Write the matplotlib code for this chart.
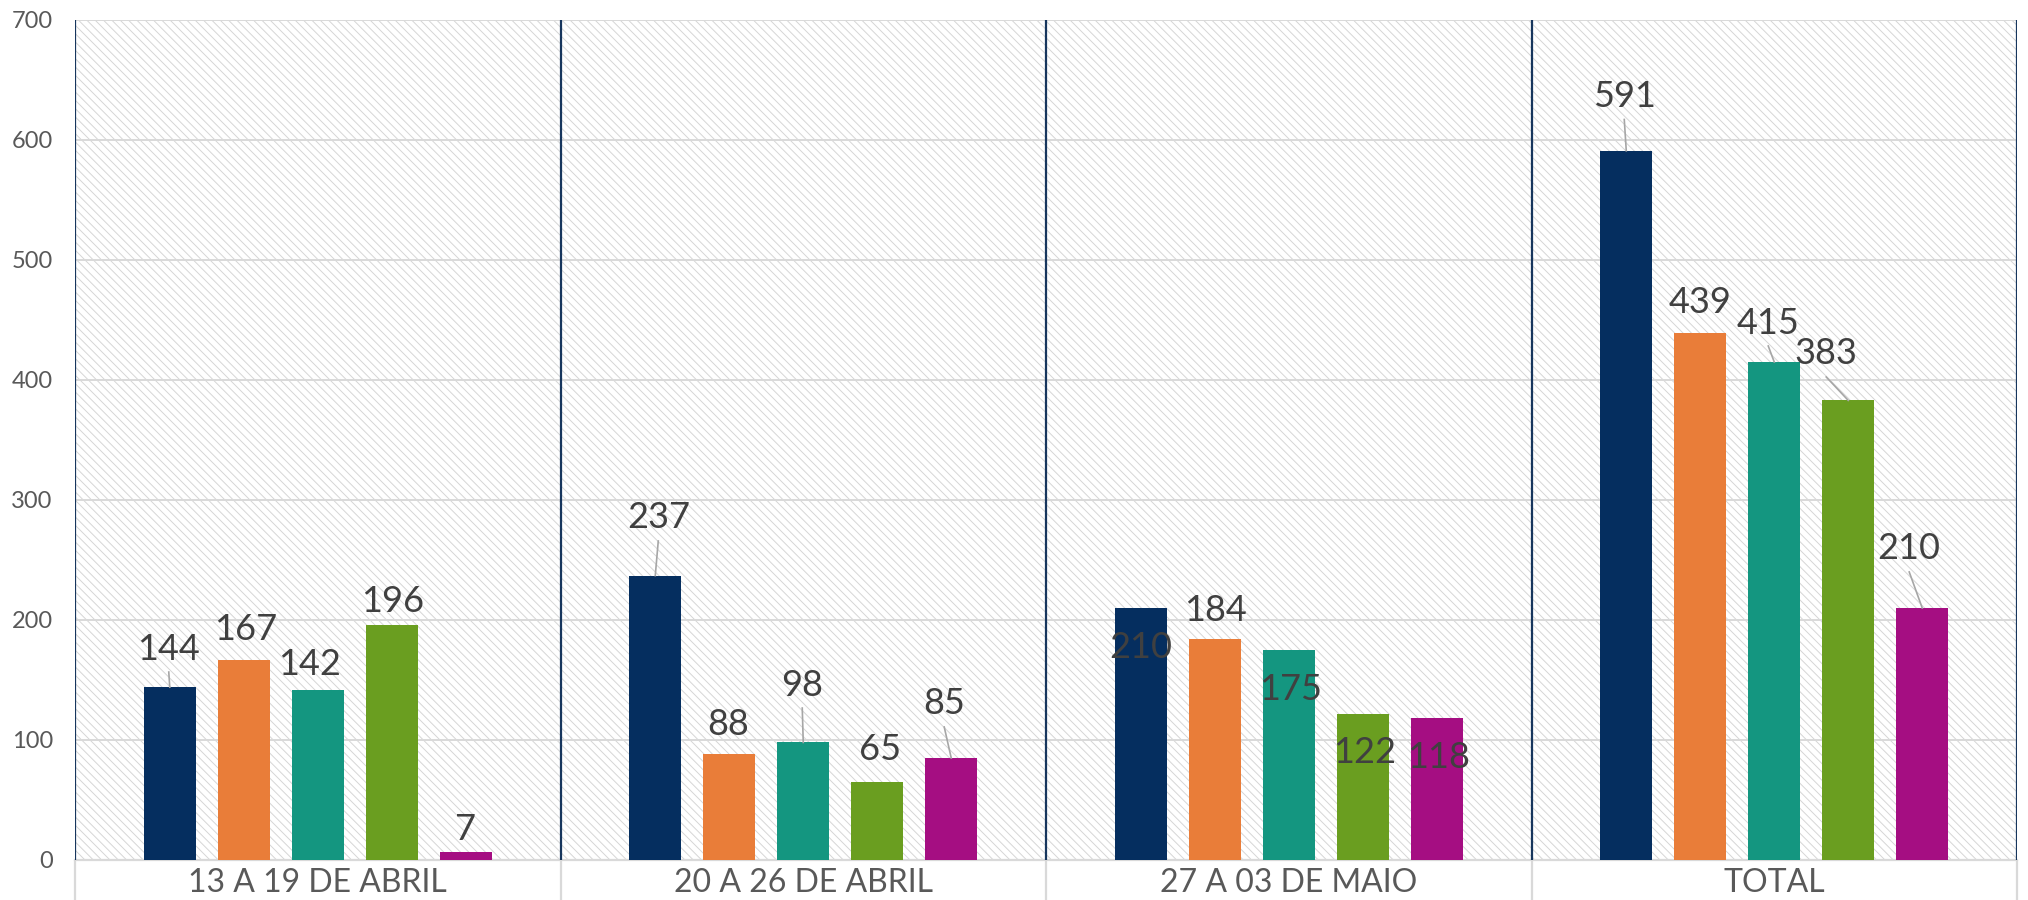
import matplotlib
matplotlib.use("Agg")
import matplotlib.pyplot as plt
from matplotlib.patches import Rectangle
import numpy as np

# ---- data ----
categories = ["13 A 19 DE ABRIL", "20 A 26 DE ABRIL", "27 A 03 DE MAIO", "TOTAL"]
series_1 = [144, 237, 210, 591]
series_2 = [167, 88, 184, 439]
series_3 = [142, 98, 175, 415]
series_4 = [196, 65, 122, 383]
series_5 = [7, 85, 118, 210]
y_ticks = [0, 100, 200, 300, 400, 500, 600, 700]

# ---- style / layout ----
colors = ["#052e5f", "#e97d39", "#149680", "#6a9e20", "#a50e82"]
W, H, DPI = 2028, 900, 100
AX_L, AX_R, AX_T, AX_B = 75, 2017, 20, 860
BAR_W = 0.107
BAR_STEP = 0.1524
# label placement: (dx in px, dy in data units above value, leader line?)
label_layout = [
    [(-1, 34.3, True), (2, 27.2, False), (-8, 23.8, False), (1, 21.5, False), (0, 20.5, False)],
    [(3, 50.5, True), (-1, 27.8, False), (-1, 50.3, True), (3, 30.0, False), (-7, 47.5, True)],
    [(0, -30.8, False), (1, 26.8, False), (2, -30.8, False), (2, -30.3, False), (2, -30.5, False)],
    [(-2, 47.75, True), (0, 27.7, False), (-6, 35.0, True), (-22, 41.2, True), (-13, 51.7, True)],
]

plt.rcParams["font.family"] = ["Lato", "DejaVu Sans"]
plt.rcParams["hatch.linewidth"] = 0.7
plt.rcParams["hatch.color"] = "#d6d6d6"

fig = plt.figure(figsize=(W / DPI, H / DPI), dpi=DPI)
ax = fig.add_axes([AX_L / W, (H - AX_B) / H, (AX_R - AX_L) / W, (AX_B - AX_T) / H])

n_cat = len(categories)
ax.set_xlim(-0.5, n_cat - 0.5)
ax.set_ylim(0, 700)
px_x = (AX_R - AX_L) / n_cat
px_y = (AX_B - AX_T) / 700.0

# hatched background
bg = Rectangle((0, 0), 1, 1, transform=ax.transAxes, facecolor="white",
               edgecolor="#d6d6d6", hatch="\\\\\\\\", linewidth=0, zorder=0)
ax.add_patch(bg)
ax.patch.set_visible(False)

# gridlines
for t in y_ticks[1:]:
    ax.axhline(t, color="#d9d9d9", lw=1.4, zorder=1)

# bars
all_series = [series_1, series_2, series_3, series_4, series_5]
x = np.arange(n_cat)
for j, s in enumerate(all_series):
    ax.bar(x + (j - 2) * BAR_STEP, s, width=BAR_W, color=colors[j], zorder=3, linewidth=0)

# navy separators
for b in np.arange(-0.5, n_cat, 1.0):
    ax.plot([b, b], [0, 700], color="#17365d", lw=1.6, zorder=4, solid_capstyle="butt")
    ax.plot([b, b], [0, -(H - AX_B) / px_y], color="#d9d9d9", lw=1.6, zorder=2,
            clip_on=False, solid_capstyle="butt")

# bottom axis line
ax.plot([-0.5, n_cat - 0.5], [0, 0], color="#d9d9d9", lw=1.6, zorder=2, clip_on=False)

# data labels
for i in range(n_cat):
    for j, s in enumerate(all_series):
        v = s[i]
        bx = i + (j - 2) * BAR_STEP
        dx, dy, leader = label_layout[i][j]
        lx = bx + dx / px_x
        ly = v + dy
        ax.text(lx, ly - 13.5 / px_y, str(v), ha="center", va="baseline",
                fontsize=26, color="#404040", zorder=6)
        if leader:
            ax.plot([bx, lx], [v, ly - 26 / px_y], color="#a6a6a6", lw=1.2, zorder=5)

for sp in ax.spines.values():
    sp.set_visible(False)

ax.set_yticks(y_ticks)
ax.set_yticklabels([str(t) for t in y_ticks])
ax.set_xticks(x)
ax.set_xticklabels(categories)
ax.tick_params(axis="y", length=0, pad=16, labelsize=17, labelcolor="#595959")
ax.tick_params(axis="x", length=0, pad=6, labelsize=23, labelcolor="#595959")

fig.savefig("out.png", dpi=DPI, facecolor="white")
